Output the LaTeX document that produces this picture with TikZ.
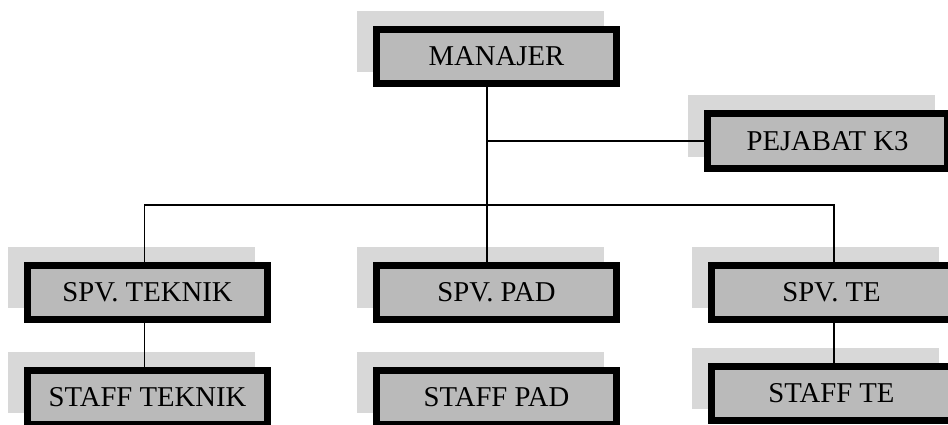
\documentclass[tikz,border=0pt]{standalone}
\usepackage{fontspec}
\setmainfont{Liberation Serif}
\usetikzlibrary{shadows,calc}

\definecolor{boxgray}{RGB}{186,186,186}
\definecolor{shadegray}{RGB}{216,216,216}
\newcommand{\busy}{205}

\begin{document}
\begin{tikzpicture}[x=0.03cm, y=-0.03cm,
    jabatan/.style={draw=black, line width=0.21cm, fill=boxgray,
        minimum width=7.2cm, minimum height=1.62cm, inner sep=0pt,
        font=\fontsize{24.5}{28}\selectfont,
        drop shadow={shadow xshift=-0.48cm, shadow yshift=0.45cm,
            opacity=1, fill=shadegray, draw=shadegray, line width=0.21cm}},
    garis/.style={black, line width=1.6pt}]

\clip (0,0) rectangle (948,425);

% draw boxes
\node[jabatan] (manajer) at (496.5, 56.5) {MANAJER};
\node[jabatan] (pejabat) at (827.5, 141) {PEJABAT K3};

\node[jabatan] (spvteknik) at (147.5, 292.5) {SPV. TEKNIK};
\node[jabatan] (spvpad) at (496.5, 292.5) {SPV. PAD};
\node[jabatan] (spvte) at (831.5, 292.5) {SPV. TE};

\node[jabatan] (staffteknik) at (147.5, 397.5) {STAFF TEKNIK};
\node[jabatan] (staffpad) at (496.5, 397.5) {STAFF PAD};
\node[jabatan] (staffte) at (831.5, 393.5) {STAFF TE};

% draw lines
\coordinate (bus) at (487, \busy);
\draw[garis] (manajer.south -| bus) -- (bus);
\draw[garis] (pejabat.west -| bus) -- (pejabat.west);
\draw[garis] ($(spvteknik.north)+(-3,0)$) -- ($(spvteknik.north |- bus)+(-3,0)$)
    -- ($(spvte.north |- bus)+(2.5,0)$) -- ($(spvte.north)+(2.5,0)$);
\draw[garis] (bus) -- (spvpad.north -| bus);

\draw[garis] ($(spvteknik.south)+(-3,0)$) -- ($(staffteknik.north)+(-3,0)$);
\draw[garis] ($(spvte.south)+(2.5,0)$) -- ($(staffte.north)+(2.5,0)$);

\end{tikzpicture}
\end{document}
